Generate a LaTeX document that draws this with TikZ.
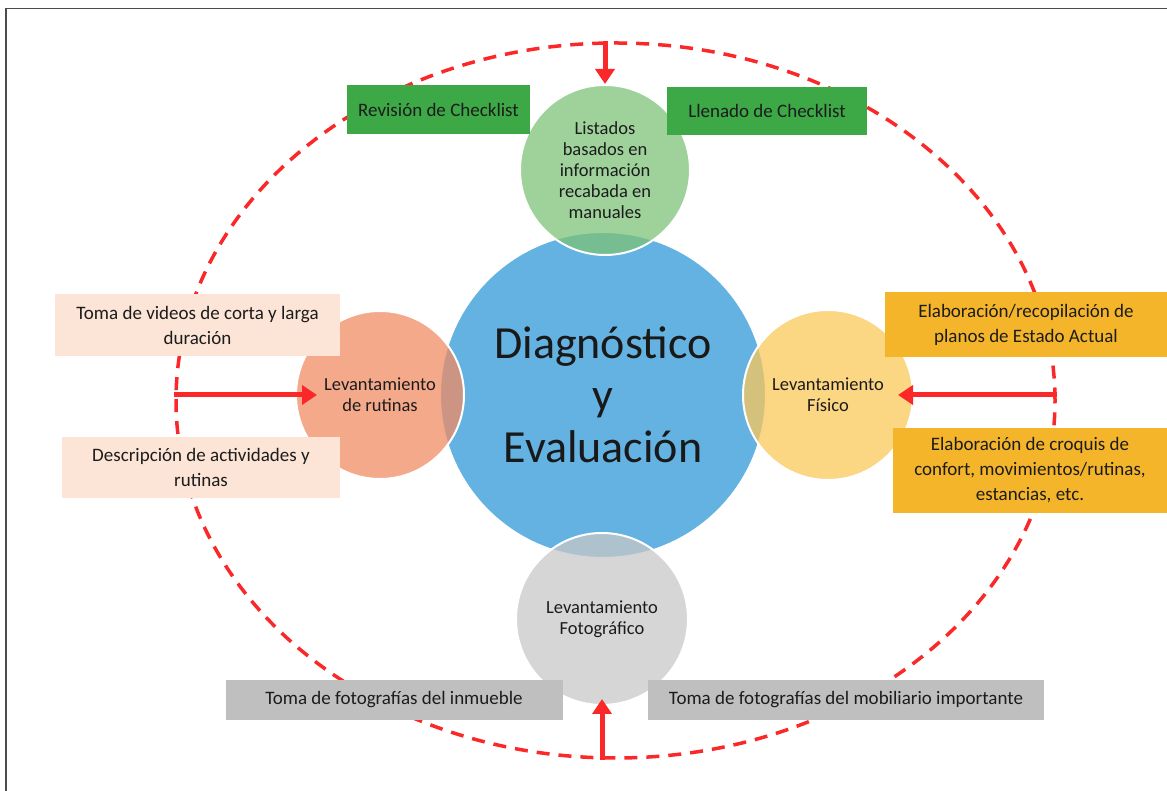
\documentclass[tikz,border=0pt]{standalone}
\usepackage{fontspec}
\setmainfont{Carlito}
\usetikzlibrary{shapes.geometric,arrows.meta}
\definecolor{bluec}{RGB}{100,178,226}
\definecolor{greenc}{RGB}{125,195,120}
\definecolor{orangec}{RGB}{240,140,100}
\definecolor{yellowc}{RGB}{250,200,90}
\definecolor{grayc}{RGB}{200,200,200}
\definecolor{greenbox}{RGB}{60,168,70}
\definecolor{pinkbox}{RGB}{252,228,214}
\definecolor{goldbox}{RGB}{245,181,42}
\definecolor{graybox}{RGB}{191,191,191}
\definecolor{arrowred}{RGB}{250,40,40}
\definecolor{txt}{RGB}{28,28,28}
\begin{document}
\begin{tikzpicture}[x=1pt,y=1pt,
    hub/.style={circle,fill=bluec,draw=white,line width=2pt,inner sep=0pt,minimum size=326pt,
      align=center,text=black!90,font=\fontsize{46}{52}\selectfont},
    sat/.style={circle,fill=#1,fill opacity=0.75,text opacity=1,draw=white,line width=2pt,inner sep=0pt,
      minimum size=170pt,align=center,text=txt,font=\fontsize{18.5}{21}\selectfont},
    tag/.style={fill=#1,inner sep=0pt,align=center,text=txt,font=\fontsize{19}{25}\selectfont},
    ringline/.style={draw=arrowred,line width=3.5pt,dash pattern=on 13pt off 9pt,ellipse,inner sep=0pt},
    feed/.style={draw=arrowred,line width=5pt,-{Triangle[width=19pt,length=15pt]}}]
  \useasboundingbox (0,0) rectangle (1167,791);
  \draw[black!70,line width=1.3pt] (6,0) -- (6,782.5) -- (1167,782.5);

  \node[hub] (diag) at (603,396) {Diagnóstico\\y\\Evaluación};
  \node[sat=greenc] (chk) at (605,621) {Listados\\basados en\\información\\recabada en\\manuales};
  \node[sat=orangec,minimum size=168pt] (rut) at (380,396) {Levantamiento\\de rutinas};
  \node[sat=yellowc] (fis) at (828,396) {Levantamiento\\Físico};
  \node[sat=grayc,minimum size=172pt] (fot) at (602,172) {Levantamiento\\Fotográfico};

  \node[ringline,minimum width=879pt,minimum height=715pt] (ring) at (615.5,390.5) {};

  \node[tag=greenbox,minimum width=183pt,minimum height=49pt] (rev) at (438.5,681.5) {Revisión de Checklist};
  \node[tag=greenbox,minimum width=200pt,minimum height=48pt] (lle) at (767,680) {Llenado de Checklist};
  \node[tag=pinkbox,minimum width=285pt,minimum height=62pt] (vid) at (197.5,466) {Toma de videos de corta y larga\\duración};
  \node[tag=pinkbox,minimum width=278pt,minimum height=61pt] (des) at (201,323.5) {Descripción de actividades y\\rutinas};
  \node[tag=goldbox,minimum width=282pt,minimum height=65pt] (pla) at (1026,466) {Elaboración/recopilación de\\planos de Estado Actual};
  \node[tag=goldbox,minimum width=274pt,minimum height=85pt] (cro) at (1030,320.5) {Elaboración de croquis de\\confort, movimientos/rutinas,\\estancias, etc.};
  \node[tag=graybox,minimum width=337pt,minimum height=40pt] (inm) at (394,91) {Toma de fotografías del inmueble};
  \node[tag=graybox,minimum width=396pt,minimum height=40pt] (mob) at (846,91) {Toma de fotografías del mobiliario importante};

  \draw[feed] (chk.north |- ring.north) -- (chk.north);
  \draw[feed] (ring.west |- rut.west) -- ([xshift=22pt]rut.west);
  \draw[feed] (ring.east |- fis.east) -- ([xshift=-16pt]fis.east);
  \draw[feed] (fot.south |- ring.south) -- ([yshift=7pt]fot.south);
\end{tikzpicture}
\end{document}
